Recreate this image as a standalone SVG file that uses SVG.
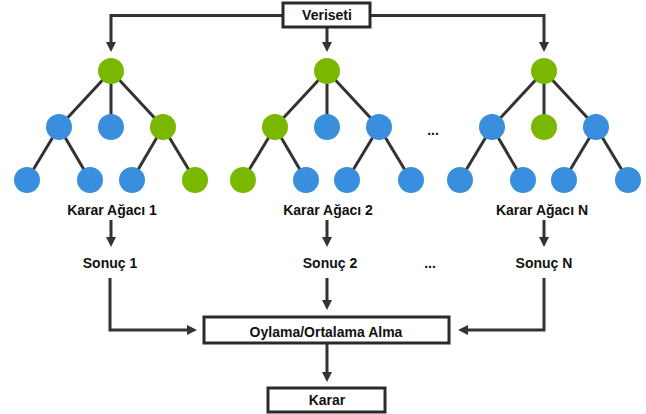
<svg xmlns="http://www.w3.org/2000/svg" width="646" height="414" viewBox="0 0 646 414">
<defs>
<marker id="ah" markerUnits="userSpaceOnUse" markerWidth="10" markerHeight="10" refX="2" refY="5" orient="auto">
<path d="M0,0 L10,5 L0,10 z" fill="#333"/>
</marker>
<style>
text{font-family:"Liberation Sans",Arial,sans-serif;font-weight:bold;font-size:14px;fill:#111;text-anchor:middle}
.e{stroke:#333;stroke-width:3;fill:none}
.c{fill:none;stroke:#333;stroke-width:3;marker-end:url(#ah)}
.b{fill:#3a8ede}
.g{fill:#7ab800}
.box{fill:#fff;stroke:#2a2a2a;stroke-width:3}
</style>
</defs>
<rect width="646" height="414" fill="#fff"/>
<g id="connectors">
<path class="c" d="M283,15.5 H111 V44"/>
<path class="c" d="M327,27 V44"/>
<path class="c" d="M370,15.5 H544 V44"/>
<path class="c" d="M111,220 V239"/>
<path class="c" d="M327,220 V239"/>
<path class="c" d="M544,220 V239"/>
<path class="c" d="M110,278 V330 H189"/>
<path class="c" d="M327,278 V302"/>
<path class="c" d="M544,278 V330 H466"/>
<path class="c" d="M327,343 V374"/>
</g>
<g id="veriseti"><rect class="box" x="283" y="3" width="87" height="24"/><text x="327" y="20">Veriseti</text></g>
<g id="tree1">
<path class="e" d="M111,71 L59,127 M111,71 L111,127 M111,71 L163,127 M59,127 L27,180 M59,127 L90,180 M163,127 L132,180 M163,127 L195,180"/>
<circle class="g" cx="111" cy="71" r="13"/>
<circle class="b" cx="59" cy="127" r="13"/><circle class="b" cx="111" cy="127" r="13"/><circle class="g" cx="163" cy="127" r="13"/>
<circle class="b" cx="27" cy="180" r="13"/><circle class="b" cx="90" cy="180" r="13"/><circle class="b" cx="132" cy="180" r="13"/><circle class="g" cx="195" cy="180" r="13"/>
</g>
<g id="tree2">
<path class="e" d="M327,71 L275,127 M327,71 L327,127 M327,71 L379,127 M275,127 L243,180 M275,127 L306,180 M379,127 L347,180 M379,127 L411,180"/>
<circle class="g" cx="327" cy="71" r="13"/>
<circle class="g" cx="275" cy="127" r="13"/><circle class="b" cx="327" cy="127" r="13"/><circle class="b" cx="379" cy="127" r="13"/>
<circle class="g" cx="243" cy="180" r="13"/><circle class="b" cx="306" cy="180" r="13"/><circle class="b" cx="347" cy="180" r="13"/><circle class="b" cx="411" cy="180" r="13"/>
</g>
<g id="treeN">
<path class="e" d="M544,71 L492,127 M544,71 L544,127 M544,71 L596,127 M492,127 L460,180 M492,127 L523,180 M596,127 L564,180 M596,127 L628,180"/>
<circle class="g" cx="544" cy="71" r="13"/>
<circle class="b" cx="492" cy="127" r="13"/><circle class="g" cx="544" cy="127" r="13"/><circle class="b" cx="596" cy="127" r="13"/>
<circle class="b" cx="460" cy="180" r="13"/><circle class="b" cx="523" cy="180" r="13"/><circle class="b" cx="564" cy="180" r="13"/><circle class="b" cx="628" cy="180" r="13"/>
</g>
<g id="dots1"><text x="433" y="135">...</text></g>
<g id="label1"><text x="112" y="215">Karar Ağacı 1</text></g>
<g id="label2"><text x="328" y="215">Karar Ağacı 2</text></g>
<g id="labelN"><text x="542" y="215">Karar Ağacı N</text></g>
<g id="sonuc1"><text x="110" y="268">Sonuç 1</text></g>
<g id="sonuc2"><text x="330" y="268">Sonuç 2</text></g>
<g id="dots2"><text x="430" y="268">...</text></g>
<g id="sonucN"><text x="544" y="268">Sonuç N</text></g>
<g id="oylama"><rect class="box" x="204" y="317" width="245" height="26"/><text x="326" y="337">Oylama/Ortalama Alma</text></g>
<g id="karar"><rect class="box" x="268" y="388" width="117" height="24"/><text x="327" y="405">Karar</text></g>
</svg>
